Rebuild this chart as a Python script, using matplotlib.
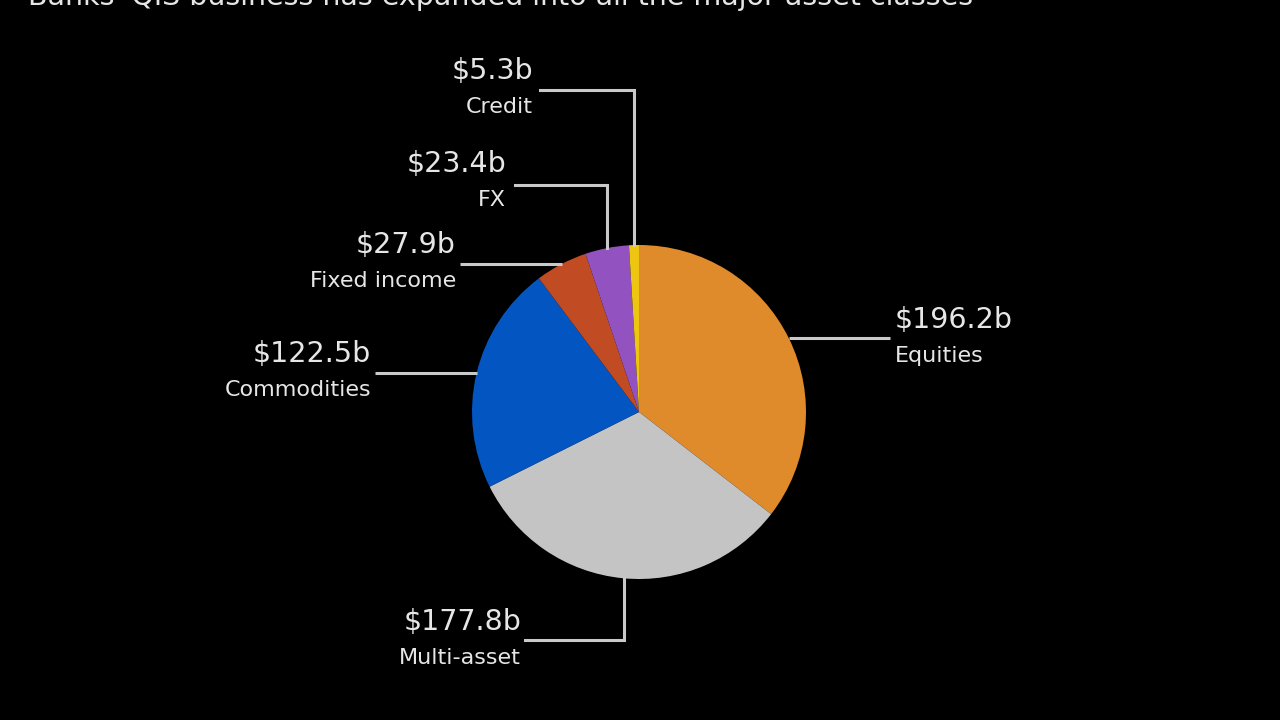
import numpy as np
import matplotlib.pyplot as plt

# data
categories = ["Equities", "Multi-asset", "Commodities", "Fixed income", "FX", "Credit"]
values = [196.2, 177.8, 122.5, 27.9, 23.4, 5.3]
colors = ["#DF8A2B", "#C4C4C4", "#0356C2", "#C14B22", "#9253C0", "#EEC611"]
title = "Banks' QIS business has expanded into all the major asset classes"

W, H = 1280, 720
cx, cy, r = 639, 412, 167
line_col = "#c9c9c9"
txt_col = "#e6e6e6"

fig = plt.figure(figsize=(12.8, 7.2), dpi=100, facecolor="black")
ax = fig.add_axes([0, 0, 1, 1])
ax.set_facecolor("black")

def Y(y):
    # image-style y (from top) to axes y
    return H - y

ax.pie(values, colors=colors, startangle=90, counterclock=False,
       center=(cx, Y(cy)), radius=r, frame=True,
       wedgeprops=dict(linewidth=0))
ax.set_xlim(0, W)
ax.set_ylim(0, H)
ax.set_aspect("equal")
ax.axis("off")

def hline(y, side, x_end):
    # horizontal leader from the pie edge at height y
    dx = np.sqrt(r**2 - (y - cy)**2)
    x0 = cx + dx if side == "right" else cx - dx
    ax.plot([x0, x_end], [Y(y), Y(y)], color=line_col, lw=2.2, solid_capstyle="butt")

def elbow(x, y_turn, x_end, down=False):
    dy = np.sqrt(r**2 - (x - cx)**2)
    y0 = cy + dy if down else cy - dy
    ax.plot([x, x, x_end], [Y(y0), Y(y_turn), Y(y_turn)], color=line_col, lw=2.2,
            solid_joinstyle="miter")

def label(x, y, val, name, ha):
    ax.text(x, Y(y), "$%.1fb" % val, color=txt_col, fontsize=20.5, ha=ha, va="center",
            family="DejaVu Sans")
    ax.text(x, Y(y + 36), name, color=txt_col, fontsize=16, ha=ha, va="center",
            family="DejaVu Sans")

# Equities
hline(338, "right", 890)
label(895, 320, values[0], categories[0], "left")
# Multi-asset
elbow(624, 640, 525, down=True)
label(521, 622, values[1], categories[1], "right")
# Commodities
hline(373, "left", 375)
label(371, 354, values[2], categories[2], "right")
# Fixed income
hline(264, "left", 460)
label(456, 245, values[3], categories[3], "right")
# FX
elbow(607, 185, 515)
label(506, 164, values[4], categories[4], "right")
# Credit
elbow(634, 90, 540)
label(533, 71, values[5], categories[5], "right")

# title sits mostly above the frame, as in the source
fig.text(28 / W, 1 - 5 / H, title, color=txt_col, fontsize=20.5, ha="left", va="baseline")

fig.savefig("out.png", dpi=100, facecolor="black")
